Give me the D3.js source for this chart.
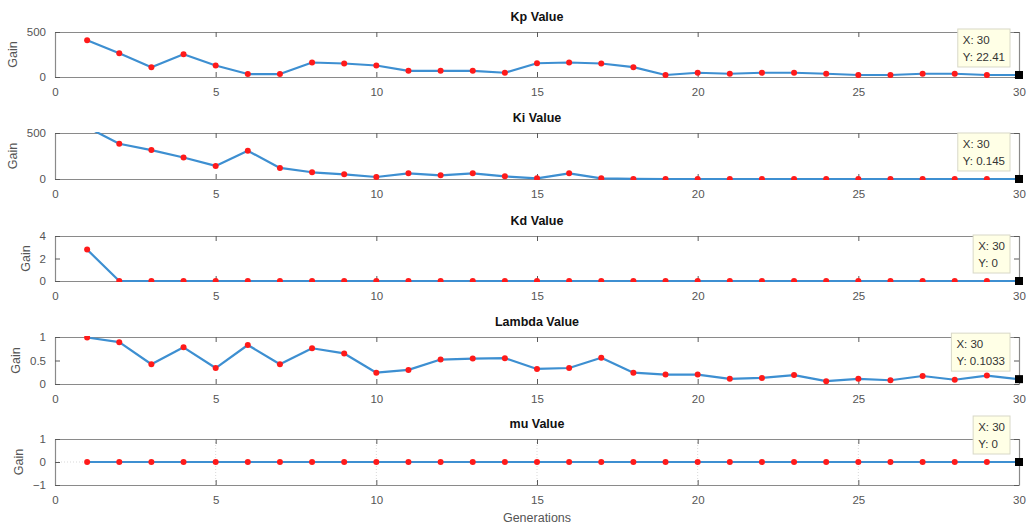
<!DOCTYPE html>
<html>
<head>
<meta charset="utf-8">
<script src="https://cdn.jsdelivr.net/npm/d3@7"></script>
<style>
  body { margin: 0; background: #fff; }
  text { font-family: "Liberation Sans", Arial, sans-serif; }
</style>
</head>
<body>
<div id="chart"></div>
<script>
// data
const generations = [1,2,3,4,5,6,7,8,9,10,11,12,13,14,15,16,17,18,19,20,21,22,23,24,25,26,27,28,29,30];
const kpValues = [409,263,109,252,128,33,33,161,150,128,69,69,69,47,153,161,150,109,22,47,36,47,47,36,22,22,36,36,22,22.41];
const kiValues = [563,383,314,234,142,307,120,73,51,22,62,40,62,29,7,62,7,0.3,0.2,0.2,0.2,0.2,0.2,0.15,0.15,0.15,0.15,0.15,0.15,0.145];
const kdValues = [2.79,0,0,0,0,0,0,0,0,0,0,0,0,0,0,0,0,0,0,0,0,0,0,0,0,0,0,0,0,0];
const lambdaValues = [0.99,0.89,0.42,0.78,0.34,0.83,0.42,0.76,0.65,0.24,0.30,0.52,0.54,0.55,0.32,0.34,0.56,0.24,0.20,0.20,0.11,0.13,0.19,0.06,0.11,0.08,0.17,0.09,0.18,0.1033];
const muValues = [0,0,0,0,0,0,0,0,0,0,0,0,0,0,0,0,0,0,0,0,0,0,0,0,0,0,0,0,0,0];

const xTicks = [0,5,10,15,20,25,30];
const titles = ['Kp Value', 'Ki Value', 'Kd Value', 'Lambda Value', 'mu Value'];
const yDomains = [[0,500],[0,500],[0,4],[0,1],[-1,1]];
const yTicks = [[0,500],[0,500],[0,2,4],[0,0.5,1],[-1,0,1]];
const tipLabels = ['22.41', '0.145', '0', '0.1033', '0'];

const panels = [
  {title: titles[0], values: kpValues, top: 32, bottom: 77},
  {title: titles[1], values: kiValues, top: 133, bottom: 179},
  {title: titles[2], values: kdValues, top: 236, bottom: 281},
  {title: titles[3], values: lambdaValues, top: 337, bottom: 384},
  {title: titles[4], values: muValues, top: 439, bottom: 485, grid: true}
];

const dim = { width: 1028, height: 529, left: 55, right: 1019 };
const axisColor = '#8a8a8a';
const tickColor = '#5a5a5a';

const svg = d3.select('#chart')
  .append('svg')
  .attr('width', dim.width)
  .attr('height', dim.height);

const x = d3.scaleLinear().domain([0, 30]).range([dim.left, dim.right]);

panels.forEach((p, i) => {
  const y = d3.scaleLinear().domain(yDomains[i]).range([p.bottom, p.top]);
  const g = svg.append('g');

  // clip to axes box
  svg.append('clipPath').attr('id', 'clip' + i)
    .append('rect')
    .attr('x', dim.left).attr('y', p.top - 1)
    .attr('width', dim.right - dim.left).attr('height', p.bottom - p.top + 2);

  // grid for mu panel
  if (p.grid) {
    g.selectAll('.vgrid')
      .data(xTicks.slice(1, -1))
      .join('line')
      .attr('x1', d => x(d)).attr('x2', d => x(d))
      .attr('y1', p.top).attr('y2', p.bottom)
      .attr('stroke', '#d9d9d9').attr('stroke-dasharray', '1,2');
    g.selectAll('.hgrid')
      .data(yTicks[i].slice(1, -1))
      .join('line')
      .attr('x1', dim.left).attr('x2', dim.right)
      .attr('y1', d => y(d)).attr('y2', d => y(d))
      .attr('stroke', '#d9d9d9').attr('stroke-dasharray', '1,2');
  }

  // x axis bottom (labels) and top (ticks only)
  const xAxisB = g.append('g')
    .attr('transform', `translate(0,${p.bottom})`)
    .call(d3.axisBottom(x).tickValues(xTicks).tickSizeInner(-5).tickSizeOuter(0).tickPadding(11));
  const xAxisT = g.append('g')
    .attr('transform', `translate(0,${p.top})`)
    .call(d3.axisTop(x).tickValues(xTicks).tickSizeInner(-5).tickSizeOuter(0).tickFormat(''));
  const yAxisL = g.append('g')
    .attr('transform', `translate(${dim.left},0)`)
    .call(d3.axisLeft(y).tickValues(yTicks[i]).tickSizeInner(-5).tickSizeOuter(0).tickPadding(9).tickFormat(d3.format('')));
  const yAxisR = g.append('g')
    .attr('transform', `translate(${dim.right},0)`)
    .call(d3.axisRight(y).tickValues(yTicks[i]).tickSizeInner(-5).tickSizeOuter(0).tickFormat(''));

  [xAxisB, xAxisT, yAxisL, yAxisR].forEach(a => {
    a.select('.domain').attr('stroke', axisColor).attr('stroke-width', 1.2);
    a.selectAll('.tick line').attr('stroke', tickColor);
    a.selectAll('.tick text')
      .attr('fill', '#555')
      .style('font-size', '11.5px')
      .style('font-family', '"Liberation Sans", Arial, sans-serif');
  });

  // title
  g.append('text')
    .attr('x', (dim.left + dim.right) / 2)
    .attr('y', p.top - 11)
    .attr('text-anchor', 'middle')
    .style('font-size', '12.5px')
    .style('font-weight', 'bold')
    .attr('fill', '#111')
    .text(p.title);

  // y label placed left of widest tick label
  let widest = 0;
  yAxisL.selectAll('.tick text').each(function () {
    widest = Math.max(widest, this.getComputedTextLength());
  });
  const gx = dim.left - 9 - widest - 10;
  g.append('text')
    .attr('transform', `translate(${gx},${(p.top + p.bottom) / 2}) rotate(-90)`)
    .attr('text-anchor', 'middle')
    .style('font-size', '12.5px')
    .attr('fill', '#555')
    .text('Gain');

  // series line and markers
  const data = generations.map((gen, j) => ({gen, val: p.values[j]}));
  const plot = g.append('g').attr('clip-path', `url(#clip${i})`);
  plot.append('path')
    .datum(data)
    .attr('fill', 'none')
    .attr('stroke', '#3d8fd1')
    .attr('stroke-width', 2.2)
    .attr('stroke-linejoin', 'round')
    .attr('d', d3.line().x(d => x(d.gen)).y(d => y(d.val)));
  plot.selectAll('circle')
    .data(data)
    .join('circle')
    .attr('cx', d => x(d.gen))
    .attr('cy', d => y(d.val))
    .attr('r', 3)
    .attr('fill', '#ff1a1a');

  // data tip at last point
  const last = data[data.length - 1];
  const px = x(last.gen), py = y(last.val);
  g.append('rect')
    .attr('x', px - 4).attr('y', py - 4)
    .attr('width', 8).attr('height', 8)
    .attr('fill', '#000');

  const tip = g.append('g');
  const t1 = tip.append('text').text('X: ' + last.gen);
  const t2 = tip.append('text').text('Y: ' + tipLabels[i]);
  tip.selectAll('text').style('font-size', '11.5px').attr('fill', '#333');
  const tw = Math.max(t1.node().getComputedTextLength(), t2.node().getComputedTextLength());
  const bw = tw + 10, bh = 38;
  const bx = px - 9 - bw, by = py - 8 - bh;
  tip.insert('rect', 'text')
    .attr('x', bx).attr('y', by)
    .attr('width', bw).attr('height', bh)
    .attr('fill', '#ffffe6')
    .attr('stroke', '#d8d8c8');
  t1.attr('x', bx + 5).attr('y', by + 15);
  t2.attr('x', bx + 5).attr('y', by + 32);
});

// x label
svg.append('text')
  .attr('x', (dim.left + dim.right) / 2)
  .attr('y', 522)
  .attr('text-anchor', 'middle')
  .style('font-size', '12.5px')
  .attr('fill', '#555')
  .text('Generations');
</script>
</body>
</html>
